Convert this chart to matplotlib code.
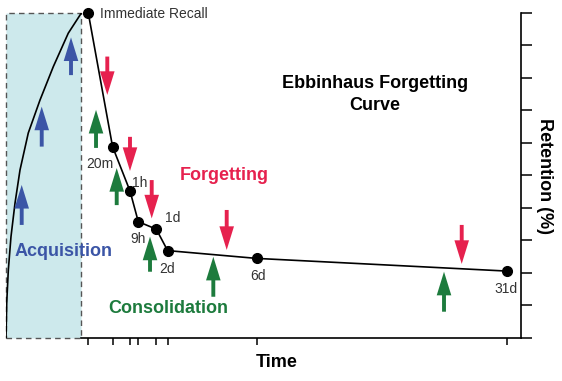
import matplotlib.pyplot as plt
from matplotlib.patches import Rectangle, FancyArrowPatch

plt.rcParams['font.family'] = ['Liberation Sans', 'DejaVu Sans']

# retention measurements (time axis in arbitrary display units)
labels = ["Immediate Recall", "20m", "1h", "9h", "1d", "2d", "6d", "31d"]
time_pos = [16.0, 20.7, 24.1, 25.7, 29.2, 31.4, 48.7, 97.3]
retention = [99.8, 58.8, 45.1, 35.7, 33.4, 26.8, 24.4, 20.5]

# acquisition curve
acq_x = [0.0, 0.14, 0.45, 0.97, 1.75, 2.72, 4.33, 6.6, 9.19, 12.1, 14.6]
acq_y = [0.0, 10.7, 20.8, 31.1, 41.4, 51.6, 63.0, 73.1, 83.4, 93.7, 99.8]
acq_end = 14.6

# arrows: x, tail y, tip y
blue_x = [12.63, 6.94, 3.05]
blue_from = [80.8, 58.8, 34.7]
blue_to = [92.4, 71.1, 47.0]
green_x = [17.49, 21.51, 27.98, 40.28, 85.1]
green_from = [58.4, 40.8, 20.3, 12.6, 8.0]
green_to = [70.1, 52.2, 31.1, 24.9, 20.3]
red_x = [19.68, 24.09, 28.31, 42.88, 88.54]
red_from = [86.5, 61.8, 48.5, 39.3, 34.7]
red_to = [74.7, 51.3, 36.7, 27.0, 22.7]

BLUE = "#3b55a6"
RED = "#e6214e"
GREEN = "#1d7b3d"

fig = plt.figure(figsize=(5.62, 3.81), dpi=100)
ax = fig.add_axes([6 / 562, 1 - 337.7 / 381, 514.7 / 562, 325 / 381])
ax.set_xlim(0, 100)
ax.set_ylim(0, 100)

# acquisition box
ax.add_patch(Rectangle((0, 0), acq_end, 100, facecolor="#cde9ec",
                       edgecolor="#555555", linestyle=(0, (4, 3)),
                       linewidth=1, clip_on=False, zorder=0))
ax.plot(acq_x, acq_y, color="black", lw=1.2, zorder=2)

ax.plot(time_pos, retention, color="black", lw=1.2, marker="o",
        markersize=7, zorder=3, clip_on=False)


def arrow(x, y0, y1, color):
    ax.add_patch(FancyArrowPatch((x, y0), (x, y1),
                 arrowstyle="simple,head_length=17,head_width=10.5,tail_width=2.8",
                 mutation_scale=1, color=color, lw=0, shrinkA=0, shrinkB=0,
                 zorder=4))


for x, a, b in zip(blue_x, blue_from, blue_to):
    arrow(x, a, b, BLUE)
for x, a, b in zip(green_x, green_from, green_to):
    arrow(x, a, b, GREEN)
for x, a, b in zip(red_x, red_from, red_to):
    arrow(x, a, b, RED)

# point labels
lab = dict(fontsize=10, color="#333333", va="baseline")
ax.text(18.3, 98.3, labels[0], ha="left", **lab)
ax.text(20.8, 52.2, labels[1], ha="right", **lab)
ax.text(24.5, 46.4, labels[2], ha="left", **lab)
ax.text(24.1, 29.1, labels[3], ha="left", **lab)
ax.text(30.9, 35.6, labels[4], ha="left", **lab)
ax.text(29.7, 19.9, labels[5], ha="left", **lab)
ax.text(48.9, 17.75, labels[6], ha="center", **lab)
ax.text(97.1, 13.75, labels[7], ha="center", **lab)

big = dict(fontsize=13, fontweight="bold", va="baseline")
ax.text(71.7, 76.7, "Ebbinhaus Forgetting", ha="center", color="black", **big)
ax.text(71.7, 70.0, "Curve", ha="center", color="black", **big)
ax.text(42.4, 48.5, "Forgetting", ha="center", color=RED, **big)
ax.text(1.75, 25.2, "Acquisition", ha="left", color=BLUE, **big)
ax.text(19.9, 7.7, "Consolidation", ha="left", color=GREEN, **big)
ax.text(52.5, -8.9, "Time", ha="center", color="black", clip_on=False, **big)
ax.text(104.7, 49.8, "Retention (%)", ha="center", va="center", rotation=270,
        fontsize=13, fontweight="bold", clip_on=False)

# axes styling
for side in ["top", "left"]:
    ax.spines[side].set_visible(False)
ax.spines["bottom"].set_bounds(acq_end, 100)
ax.spines["bottom"].set_linewidth(1.2)
ax.spines["right"].set_linewidth(1.2)
ax.yaxis.tick_right()
ax.set_yticks(range(0, 101, 10))
ax.set_xticks(time_pos)
ax.tick_params(axis="y", direction="out", length=8, width=1.1, labelright=False)
ax.tick_params(axis="x", direction="out", length=5, width=1.1, labelbottom=False)

fig.savefig("out.png", dpi=100)
plt.close(fig)
